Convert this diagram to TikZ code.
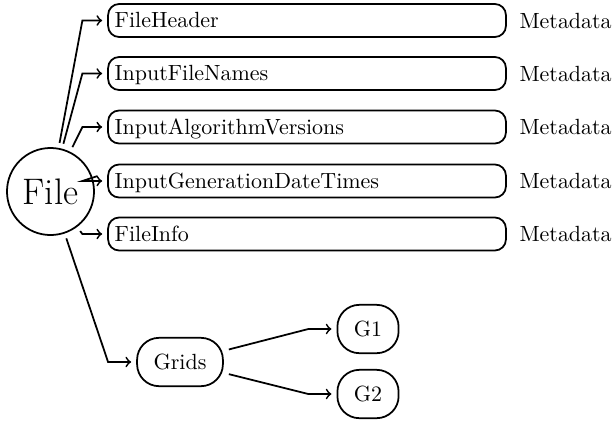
\documentclass[tikz,border=0pt]{standalone}
\usetikzlibrary{calc}
\begin{document}
\begin{tikzpicture}[x=0.455pt,y=-0.455pt,
  every node/.style={outer sep=2.7pt},
  hub/.style={circle,draw,thick,minimum size=39.6pt,inner sep=0pt,font=\fontsize{16.8}{20}\selectfont},
  leafbox/.style={draw,thick,rounded corners=5pt,minimum height=15pt,text width=175pt,inner xsep=3pt,inner ysep=0pt,text height=6.8pt,text depth=0pt,align=left},
  pill/.style={draw,thick,rounded corners=10pt,inner xsep=7.5pt,inner ysep=0pt,minimum height=22pt,text height=6.8pt,text depth=0pt},
  tag/.style={inner sep=0pt,outer sep=0pt,anchor=west},
  link/.style={->,thick}]
  \useasboundingbox (0,0) rectangle (616,421);

  % root
  \node[hub] (file) at (50.5,191.5) {File};

  % first-level entries
  \node[leafbox] (b1) at (307,20.5)  {FileHeader};
  \node[leafbox] (b2) at (307,73.5)  {InputFileNames};
  \node[leafbox] (b3) at (307,127) {InputAlgorithmVersions};
  \node[leafbox] (b4) at (307,181) {InputGenerationDateTimes};
  \node[leafbox] (b5) at (307,234) {FileInfo};

  \foreach \i in {1,...,5} {
    \node[tag] (m\i) at ([xshift=3.5pt]b\i.east) {Metadata};
    \coordinate (k\i) at ([xshift=-9pt]b\i.west);
    \draw[link] (file) -- (k\i) -- (b\i.west);
  }

  % grids branch
  \node[pill] (grids) at (180,362) {Grids};
  \node[pill] (g1) at (368,329) {G1};
  \node[pill] (g2) at (368,394) {G2};

  \coordinate (kg) at ([xshift=-10.5pt]grids.west);
  \coordinate (kg1) at ([xshift=-10.5pt]g1.west);
  \coordinate (kg2) at ([xshift=-10.5pt]g2.west);
  \draw[link] (file) -- (kg) -- (grids.west);
  \draw[link] (grids) -- (kg1) -- (g1.west);
  \draw[link] (grids) -- (kg2) -- (g2.west);
\end{tikzpicture}
\end{document}
